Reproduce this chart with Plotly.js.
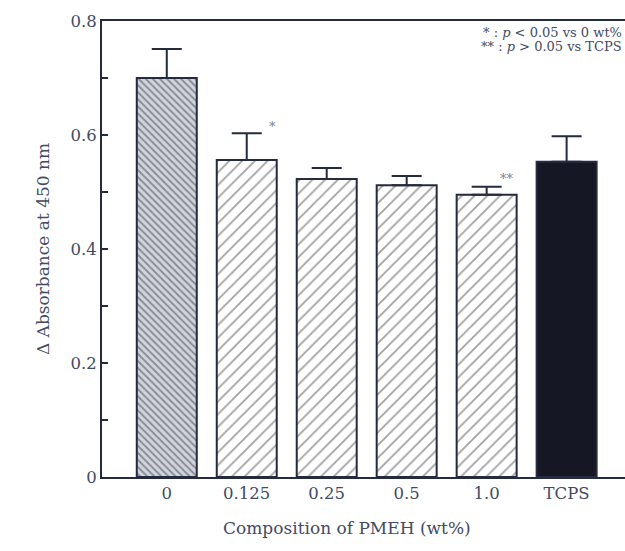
<!DOCTYPE html>
<html><head><meta charset="utf-8">
<script src="https://cdn.plot.ly/plotly-3.0.1.min.js"></script>
<style>body{margin:0;background:#fff}#g{width:625px;height:551px}</style>
</head><body><div id="g"></div>
<script>
var categories = ["0", "0.125", "0.25", "0.5", "1.0", "TCPS"];
var values = [0.700, 0.556, 0.523, 0.512, 0.495, 0.553];
var errors = [0.051, 0.047, 0.019, 0.016, 0.014, 0.045];
var yTickVals = [0, 0.2, 0.4, 0.6, 0.8];
var yTickText = ["0", "0.2", "0.4", "0.6", "0.8"];
var legendLines = ["* : <i>p</i> &lt; 0.05 vs 0 wt%", "** : <i>p</i> &gt; 0.05 vs TCPS"];

var ink = "#252b3c";
var txt = "#434b62";
var font = "DejaVu Serif, Liberation Serif, serif";

var fills = ["#d0d5e0", "#ffffff", "#ffffff", "#ffffff", "#ffffff", "#151824"];

var trace = {
  type: "bar",
  x: categories.map(function(c, i){ return i; }),
  y: values,
  width: 0.75,
  error_y: {type: "data", array: errors, symmetric: false, arrayminus: errors.map(function(){return 0;}), color: ink, thickness: 2, width: 15},
  marker: {
    color: fills,
    line: {color: ink, width: 2},
    pattern: {
      shape: ["\\", "/", "/", "/", "/", ""],
      size: [5, 9, 9, 9, 9, 8],
      solidity: [0.4, 0.2, 0.2, 0.2, 0.2, 0.2],
      fgcolor: ["#434c66", "#2e3446", "#2e3446", "#2e3446", "#2e3446", ink],
      bgcolor: fills,
      fillmode: "overlay"
    }
  },
  hoverinfo: "skip"
};

var layout = {
  width: 625, height: 551,
  margin: {l: 102, r: 0, t: 21, b: 74},
  paper_bgcolor: "#fff", plot_bgcolor: "#fff",
  showlegend: false,
  font: {family: font, color: txt, size: 16},
  xaxis: {
    range: [-0.81, 5.73],
    tickvals: categories.map(function(c, i){ return i; }),
    ticktext: categories,
    ticks: "", showgrid: false, zeroline: false,
    showline: true, linecolor: ink, linewidth: 2, mirror: true,
    tickfont: {size: 16.5, color: txt, family: font}
  },
  yaxis: {
    range: [0, 0.8],
    tickvals: yTickVals, ticktext: yTickText,
    ticks: "inside", ticklen: 6, tickwidth: 2, tickcolor: ink,
    minor: {dtick: 0.1, ticks: "inside", ticklen: 6, tickwidth: 2, tickcolor: ink, showgrid: false},
    showgrid: false, zeroline: false,
    showline: true, linecolor: ink, linewidth: 2, mirror: false,
    tickfont: {size: 16.5, color: txt, family: font},
    title: {text: "\u0394 Absorbance at 450 nm", font: {size: 17, color: txt, family: font}, standoff: 17}
  },
  annotations: [
    {x: 0.468, y: -0.111, xref: "paper", yref: "paper", yanchor: "middle", text: "Composition of PMEH (wt%)", showarrow: false,
     font: {size: 17, color: txt, family: font}},
    {x: 1.32, y: values[1] + errors[1] + 0.012, xref: "x", yref: "y", text: "*", showarrow: false, font: {size: 13, color: "#7a8294", family: font}},
    {x: 4.25, y: values[4] + errors[4] + 0.015, xref: "x", yref: "y", text: "**", showarrow: false, font: {size: 13, color: "#7a8294", family: font}},
    {x: 0.998, y: 0.974, xref: "paper", yref: "paper", xanchor: "right", yanchor: "middle",
     text: legendLines[0], showarrow: false, font: {size: 13, color: txt, family: font}},
    {x: 0.998, y: 0.943, xref: "paper", yref: "paper", xanchor: "right", yanchor: "middle",
     text: legendLines[1], showarrow: false, font: {size: 13, color: txt, family: font}}
  ]
};

Plotly.newPlot("g", [trace], layout, {displayModeBar: false, staticPlot: true});
</script>
</body></html>
